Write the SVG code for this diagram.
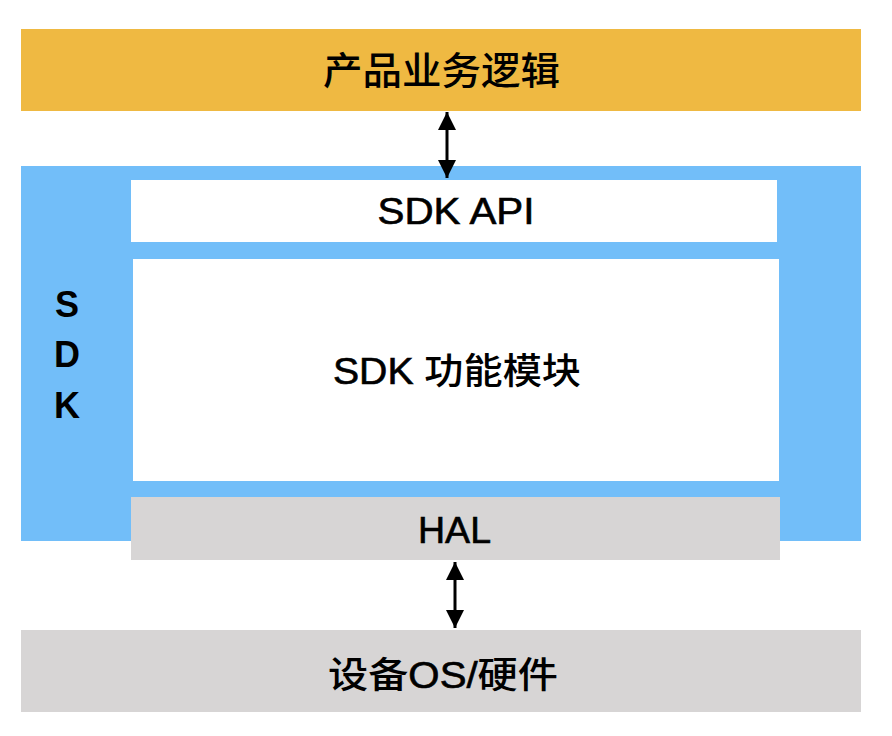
<svg xmlns="http://www.w3.org/2000/svg" width="892" height="736" viewBox="0 0 892 736">
<defs>
<style>
.t{font-family:"Liberation Sans","Noto Sans CJK SC",sans-serif;font-size:36px;fill:#000;text-anchor:middle;font-weight:500}
.cjk{font-family:"Noto Sans CJK SC","Liberation Sans",sans-serif;font-size:38px;fill:#000;text-anchor:middle;font-weight:500}
.s{stroke:#000;stroke-width:0.6px}
.b{font-weight:bold}
.conn{stroke:#000;stroke-width:3;fill:none}
</style>
<marker id="ah" viewBox="0 0 10 10" refX="10" refY="5" markerWidth="6.5" markerHeight="6" markerUnits="strokeWidth" orient="auto-start-reverse">
<path d="M0,0 L10,5 L0,10 Z" fill="#000"/>
</marker>
</defs>
<rect width="892" height="736" fill="#fff"/>
<g id="product">
<rect x="21" y="29" width="840" height="82" fill="#EFB942"/>
<text class="cjk" x="441.5" y="84" textLength="237" lengthAdjust="spacingAndGlyphs">产品业务逻辑</text>
</g>
<g id="sdk">
<rect x="21" y="166" width="840" height="375" fill="#72BEF9"/>
<text class="t b" x="67" y="317">S</text>
<text class="t b" x="67" y="367">D</text>
<text class="t b" x="67" y="418">K</text>
</g>
<g id="sdk-api">
<rect x="131" y="180" width="646" height="62" fill="#fff"/>
<text class="t s" x="456" y="224" textLength="157" lengthAdjust="spacingAndGlyphs">SDK API</text>
</g>
<g id="sdk-func">
<rect x="133" y="259" width="646" height="222" fill="#fff"/>
<text class="t" x="457" y="384" textLength="248" lengthAdjust="spacingAndGlyphs"><tspan class="s">SDK </tspan>功能模块</text>
</g>
<g id="hal">
<rect x="131" y="497" width="649" height="63" fill="#D7D5D5"/>
<text class="t s" x="454.5" y="543" textLength="73" lengthAdjust="spacingAndGlyphs">HAL</text>
</g>
<g id="device">
<rect x="21" y="630" width="840" height="82" fill="#D7D5D5"/>
<text class="t" x="443" y="688" textLength="230" lengthAdjust="spacingAndGlyphs">设备<tspan class="s">OS/</tspan>硬件</text>
</g>
<g id="connectors">
<line class="conn" x1="447" y1="112" x2="447" y2="178" marker-start="url(#ah)" marker-end="url(#ah)"/>
<line class="conn" x1="455" y1="562" x2="455" y2="628" marker-start="url(#ah)" marker-end="url(#ah)"/>
</g>
</svg>
